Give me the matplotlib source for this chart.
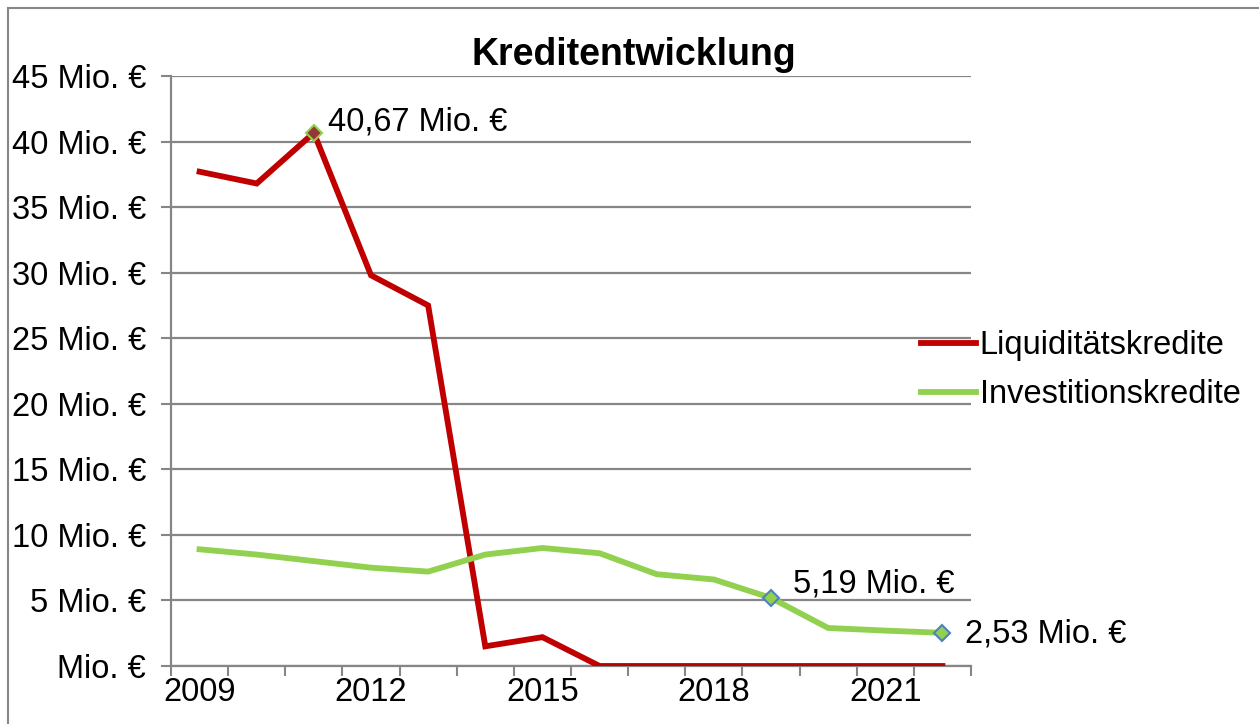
import matplotlib.pyplot as plt
from matplotlib.patches import Rectangle

plt.rcParams['font.family'] = ['Liberation Sans', 'DejaVu Sans']

## Daten
years = ['2009', '2010', '2011', '2012', '2013', '2014', '2015',
         '2016', '2017', '2018', '2019', '2020', '2021', '2022']
liquiditaet = [37.7, 36.8, 40.67, 29.8, 27.5, 1.5, 2.2,
               0.0, 0.0, 0.0, 0.0, 0.0, 0.0, 0.0]
investition = [8.9, 8.5, 8.0, 7.5, 7.2, 8.5, 9.0,
               8.6, 7.0, 6.6, 5.19, 2.9, 2.7, 2.53]
y_ticks = [0, 5, 10, 15, 20, 25, 30, 35, 40, 45]

RED = '#C00000'
GREEN = '#92D050'
GRID = '#868686'
FS = 23.5


def mio(v):
    """Achsenbeschriftung"""
    if v == 0:
        return 'Mio. €'
    return '%d Mio. €' % v


fig = plt.figure(figsize=(12.59, 7.24), dpi=100)
ax = fig.add_axes([171 / 1259, 1 - 666 / 724, 800 / 1259, 590 / 724])

# Rahmen um das Diagramm
fig.patches.append(Rectangle((8 / 1259, -0.1), 1.2, 1 - 8 / 724 + 0.1,
                             transform=fig.transFigure, fill=False,
                             edgecolor=GRID, linewidth=1.5))

x = list(range(len(years)))
ax.plot(x, liquiditaet, color=RED, lw=4.2, label='Liquiditätskredite',
        solid_joinstyle='miter', zorder=3)
ax.plot(x, investition, color=GREEN, lw=4.2, label='Investitionskredite',
        solid_joinstyle='miter', zorder=3)

# markierte Punkte
ax.plot(x[2], liquiditaet[2], 'D', ms=8, mfc='#953735', mec=GREEN, mew=1.5, zorder=4)
ax.plot([x[10], x[13]], [investition[10], investition[13]], 'D', ms=8,
        mfc=GREEN, mec='#4F81BD', mew=1.5, zorder=4)

ax.annotate('40,67 Mio. €', (x[2], liquiditaet[2]), xytext=(10, 8),
            textcoords='offset points', fontsize=FS, va='center', ha='left')
ax.annotate('5,19 Mio. €', (x[10], investition[10]), xytext=(16, 10),
            textcoords='offset points', fontsize=FS, va='center', ha='left')
ax.annotate('2,53 Mio. €', (x[13], investition[13]), xytext=(16, -1),
            textcoords='offset points', fontsize=FS, va='center', ha='left')

ax.set_xlim(-0.5, len(years) - 0.5)
ax.set_ylim(0, 45)

ax.set_xticks([i - 0.5 for i in range(len(years) + 1)])
ax.set_xticklabels([])
ax.set_xticks(x[::3], minor=True)
ax.set_xticklabels(years[::3], minor=True, fontsize=FS)
ax.tick_params(axis='x', which='major', length=7, width=1.5, color=GRID, direction='out')
ax.tick_params(axis='x', which='minor', length=0, pad=8)

ax.set_yticks(y_ticks)
ax.set_yticklabels([mio(v) for v in y_ticks], fontsize=FS)
ax.tick_params(axis='y', length=7, width=1.5, color=GRID, pad=11)

ax.grid(axis='y', color=GRID, lw=1.6)
ax.set_axisbelow(True)
for s in ['top', 'right']:
    ax.spines[s].set_visible(False)
for s in ['left', 'bottom']:
    ax.spines[s].set_color(GRID)
    ax.spines[s].set_linewidth(1.6)

fig.text(634 / 1259, 1 - 55 / 724, 'Kreditentwicklung', fontsize=27,
         fontweight='bold', ha='center', va='center')

ax.legend(loc='center left', bbox_to_anchor=(1.0 - 50 / 800, 0.5 + 1 / 590),
          frameon=False, fontsize=FS, handlelength=1.7, handletextpad=0.1,
          labelspacing=0.55, borderaxespad=0, borderpad=0)

fig.savefig('out.png', dpi=100)
